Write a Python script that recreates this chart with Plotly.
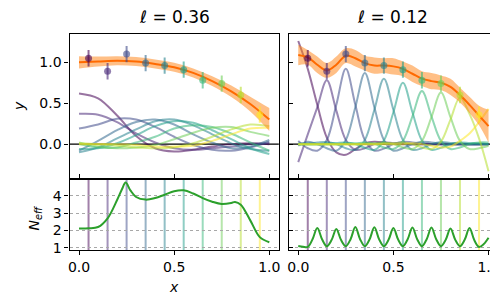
import plotly.graph_objects as go

# ---------------- data ----------------
x_data = [0.05, 0.15, 0.25, 0.35, 0.45, 0.55, 0.65, 0.75, 0.85, 0.95]
y_data = [1.05, 0.89, 1.10, 0.99, 0.96, 0.91, 0.78, 0.74, 0.60, 0.36]
y_err = [0.1, 0.1, 0.1, 0.1, 0.1, 0.1, 0.1, 0.1, 0.1, 0.1]
point_colors = ['#440154', '#482878', '#3e4989', '#31688e', '#26828e',
                '#1f9e89', '#35b779', '#6ece58', '#b5de2b', '#fde725']
titles = ['ℓ = 0.36', 'ℓ = 0.12']
x_ticks = [0.0, 0.5, 1.0]
x_tick_text = ['0.0', '0.5', '1.0']
y_ticks = [0.0, 0.5, 1.0]
y_tick_text = ['0.0', '0.5', '1.0']
neff_ticks = [1, 2, 3, 4]

# left panel (l = 0.36)
grid_left = [0.0, 0.1, 0.2, 0.3, 0.4, 0.5, 0.6, 0.7, 0.8, 0.9, 1.0]
mean_left = [1.00, 1.01, 1.02, 1.01, 0.98, 0.94, 0.87, 0.77, 0.645, 0.49, 0.30]
upper_left = [1.075, 1.07, 1.075, 1.065, 1.035, 0.995, 0.925, 0.83, 0.715, 0.58, 0.44]
lower_left = [0.925, 0.95, 0.965, 0.955, 0.925, 0.885, 0.815, 0.71, 0.575, 0.40, 0.16]
basis_left_0 = [0.62, 0.56, 0.35, 0.10, -0.05, -0.09, -0.07, -0.03, 0.00, 0.01, 0.00]
basis_left_1 = [0.37, 0.36, 0.27, 0.13, 0.02, -0.05, -0.07, -0.05, -0.03, 0.00, 0.01]
basis_left_2 = [0.19, 0.24, 0.31, 0.30, 0.21, 0.09, -0.01, -0.07, -0.08, -0.04, 0.03]
basis_left_3 = [-0.08, 0.04, 0.17, 0.27, 0.30, 0.24, 0.12, 0.02, -0.05, -0.03, 0.05]
basis_left_4 = [-0.10, -0.04, 0.07, 0.18, 0.28, 0.30, 0.23, 0.12, 0.01, -0.06, -0.08]
basis_left_5 = [-0.06, -0.05, 0.01, 0.11, 0.22, 0.28, 0.26, 0.17, 0.06, -0.05, -0.12]
basis_left_6 = [0.00, -0.04, -0.04, 0.02, 0.09, 0.19, 0.23, 0.21, 0.13, 0.02, -0.08]
basis_left_7 = [0.02, -0.03, -0.05, -0.04, -0.01, 0.06, 0.14, 0.20, 0.21, 0.15, 0.10]
basis_left_8 = [0.01, 0.00, -0.02, -0.04, -0.05, -0.04, 0.01, 0.09, 0.18, 0.24, 0.22]
basis_left_9 = [0.00, 0.00, 0.00, -0.01, -0.03, -0.03, -0.02, 0.04, 0.12, 0.19, 0.20]
basis_left = [basis_left_0, basis_left_1, basis_left_2, basis_left_3, basis_left_4,
              basis_left_5, basis_left_6, basis_left_7, basis_left_8, basis_left_9]

# right panel (l = 0.12)
grid_right = [0.0, 0.05, 0.1, 0.15, 0.2, 0.25, 0.3, 0.35, 0.4, 0.45, 0.5,
              0.55, 0.6, 0.65, 0.7, 0.75, 0.8, 0.85, 0.9, 0.95, 1.0]
mean_right = [1.09, 1.06, 0.97, 0.90, 0.97, 1.08, 1.05, 0.99, 0.96, 0.96, 0.95,
              0.92, 0.86, 0.80, 0.77, 0.75, 0.70, 0.60, 0.48, 0.35, 0.22]
upper_right = [1.215, 1.15, 1.07, 0.99, 1.07, 1.17, 1.15, 1.08, 1.06, 1.05, 1.05,
               1.01, 0.96, 0.89, 0.87, 0.84, 0.80, 0.69, 0.58, 0.47, 0.42]
lower_right = [0.965, 0.97, 0.87, 0.81, 0.87, 0.99, 0.95, 0.90, 0.86, 0.87, 0.85,
               0.83, 0.76, 0.71, 0.67, 0.66, 0.60, 0.51, 0.38, 0.23, 0.02]
basis_right_0 = [1.26, 0.92, 0.48, 0.08, -0.10, -0.13, -0.06, 0.01, 0.03, 0.02, 0.00,
                 0, 0, 0, 0, 0, 0, 0, 0, 0, 0]
basis_right_1 = [-0.22, 0.12, 0.45, 0.78, 0.41, 0.05, -0.07, -0.05, 0.00, 0.02, 0.015,
                 0.01, 0, 0, 0, 0, 0, 0, 0, 0, 0]
basis_right_2 = [0.04, -0.05, -0.08, 0.05, 0.48, 0.92, 0.48, 0.05, -0.08, -0.055, 0.00,
                 0.03, 0.02, 0.01, 0, 0, 0, 0, 0, 0, 0]
basis_right_3 = [-0.02, 0.03, 0.00, -0.05, -0.08, 0.05, 0.45, 0.87, 0.45, 0.05, -0.08,
                 -0.05, 0.00, 0.03, 0.02, 0.01, 0, 0, 0, 0, 0]
basis_right_4 = [0.01, 0.01, 0.02, 0.025, 0.00, -0.05, -0.07, 0.05, 0.42, 0.80, 0.42,
                 0.05, -0.07, -0.05, 0.00, 0.025, 0.015, 0.01, 0, 0, 0]
basis_right_5 = [0, 0, 0, 0.01, 0.015, 0.02, 0.00, -0.045, -0.07, 0.045, 0.39,
                 0.75, 0.39, 0.045, -0.07, -0.045, 0.00, 0.02, 0.015, 0.01, 0.00]
basis_right_6 = [0, 0, 0, 0, 0, 0.01, 0.01, 0.02, 0.00, -0.04, -0.06,
                 0.04, 0.34, 0.65, 0.34, 0.04, -0.06, -0.04, 0.00, 0.02, 0.02]
basis_right_7 = [0, 0, 0, 0, 0, 0, 0, 0.01, 0.01, 0.02, 0.00,
                 -0.04, -0.06, 0.04, 0.33, 0.63, 0.33, 0.04, -0.06, -0.05, -0.02]
basis_right_8 = [0, 0, 0, 0, 0, 0, 0, 0, 0, 0.01, 0.01,
                 0.02, 0.00, -0.04, -0.06, 0.03, 0.30, 0.57, 0.37, 0.07, -0.33]
basis_right_9 = [0, 0, 0, 0, 0, 0, 0, 0, 0, 0, 0,
                 0.00, 0.01, 0.00, -0.02, -0.04, -0.03, 0.04, 0.13, 0.27, 0.43]
basis_right = [basis_right_0, basis_right_1, basis_right_2, basis_right_3, basis_right_4,
               basis_right_5, basis_right_6, basis_right_7, basis_right_8, basis_right_9]

# effective number of points
neff_left_x = [0.0, 0.05, 0.1, 0.15, 0.2, 0.225, 0.245, 0.27, 0.3, 0.35, 0.4, 0.45,
               0.5, 0.55, 0.6, 0.65, 0.7, 0.75, 0.8, 0.82, 0.85, 0.9, 0.95, 1.0]
neff_left = [2.12, 2.13, 2.2, 2.7, 3.75, 4.35, 4.75, 4.3, 3.92, 3.77, 3.86, 4.05,
             4.25, 4.3, 4.12, 3.86, 3.65, 3.52, 3.58, 3.64, 3.48, 2.58, 1.62, 1.33]
neff_right_x = [0.0, 0.025, 0.05, 0.075, 0.1, 0.125, 0.15, 0.175, 0.2, 0.225, 0.25,
                0.275, 0.3, 0.325, 0.35, 0.375, 0.4, 0.425, 0.45, 0.475, 0.5,
                0.525, 0.55, 0.575, 0.6, 0.625, 0.65, 0.675, 0.7, 0.725, 0.75,
                0.775, 0.8, 0.825, 0.85, 0.875, 0.9, 0.925, 0.95, 0.975, 1.0]
neff_right = [1.11, 1.07, 1.06, 1.5, 2.14, 1.5, 1.1, 1.45, 2.09, 1.45, 1.1,
              1.5, 2.2, 1.5, 1.1, 1.5, 2.18, 1.5, 1.1, 1.48, 2.14,
              1.48, 1.1, 1.5, 2.17, 1.5, 1.1, 1.5, 2.17, 1.5, 1.1,
              1.47, 2.12, 1.47, 1.1, 1.48, 2.14, 1.45, 1.06, 1.22, 1.58]

# ---------------- figure ----------------
W, H = 498, 299
FONT = 'DejaVu Sans'


def hexa(h, a):
    h = h.lstrip('#')
    return 'rgba(%d,%d,%d,%.2f)' % (int(h[0:2], 16), int(h[2:4], 16), int(h[4:6], 16), a)


def px(xp):
    return xp / W


def py(yp):
    return 1 - yp / H


fig = go.Figure()

panels = [
    dict(xa='x', ya='y', grid=grid_left, mean=mean_left, up=upper_left, lo=lower_left,
         basis=basis_left),
    dict(xa='x2', ya='y2', grid=grid_right, mean=mean_right, up=upper_right, lo=lower_right,
         basis=basis_right),
]

for p in panels:
    for i, b in enumerate(p['basis']):
        fig.add_trace(go.Scatter(x=p['grid'], y=b, mode='lines',
                                 line=dict(color=hexa(point_colors[i], 0.55), width=2,
                                           shape='spline', smoothing=1.0),
                                 xaxis=p['xa'], yaxis=p['ya'], showlegend=False,
                                 hoverinfo='skip'))
    fig.add_trace(go.Scatter(x=p['grid'], y=p['lo'], mode='lines',
                             line=dict(width=0, shape='spline'),
                             xaxis=p['xa'], yaxis=p['ya'], showlegend=False,
                             hoverinfo='skip'))
    fig.add_trace(go.Scatter(x=p['grid'], y=p['up'], mode='lines',
                             line=dict(width=0, shape='spline'), fill='tonexty',
                             fillcolor='rgba(255,127,14,0.5)',
                             xaxis=p['xa'], yaxis=p['ya'], showlegend=False,
                             hoverinfo='skip'))
    fig.add_trace(go.Scatter(x=p['grid'], y=p['mean'], mode='lines',
                             line=dict(color='#ff6a00', width=2, shape='spline'),
                             xaxis=p['xa'], yaxis=p['ya'], showlegend=False))
    for i in range(len(x_data)):
        fig.add_trace(go.Scatter(x=[x_data[i]], y=[y_data[i]], mode='markers',
                                 marker=dict(color=hexa(point_colors[i], 0.6), size=7,
                                             line=dict(width=0)),
                                 error_y=dict(type='data', array=[y_err[i]], visible=True,
                                              color=hexa(point_colors[i], 0.6),
                                              thickness=2, width=0),
                                 xaxis=p['xa'], yaxis=p['ya'], showlegend=False))

# N_eff panels
fig.add_trace(go.Scatter(x=neff_left_x, y=neff_left, mode='lines',
                         line=dict(color='#2ca02c', width=2, shape='spline'),
                         xaxis='x3', yaxis='y3', showlegend=False))
fig.add_trace(go.Scatter(x=neff_right_x, y=neff_right, mode='lines',
                         line=dict(color='#2ca02c', width=2, shape='spline'),
                         xaxis='x4', yaxis='y4', showlegend=False))

shapes = []
for xa in ['x', 'x2']:
    ya = 'y' if xa == 'x' else 'y2'
    shapes.append(dict(type='line', xref=xa + ' domain', yref=ya, x0=0, x1=1, y0=0, y1=0,
                       line=dict(color='black', width=1.3), layer='below'))
for xa, ya in [('x3', 'y3'), ('x4', 'y4')]:
    for i, xv in enumerate(x_data):
        shapes.append(dict(type='line', xref=xa, yref=ya + ' domain', x0=xv, x1=xv,
                           y0=0, y1=1, line=dict(color=hexa(point_colors[i], 0.5), width=2),
                           layer='below'))

xl = [px(60), px(271)]
xr = [px(281), px(492)]
yt = [py(174), py(27)]
yb = [py(247), py(174)]

axis_common = dict(showline=True, mirror=True, linecolor='black', linewidth=1.3,
                   tickcolor='black', ticklen=4, tickwidth=1.1, zeroline=False,
                   tickfont=dict(family=FONT, size=14, color='black'))

grid_style = dict(showgrid=True, gridcolor='#a8a8a8', gridwidth=1.2, griddash='dot')

fig.update_layout(
    width=W, height=H, margin=dict(l=0, r=0, t=0, b=0),
    paper_bgcolor='white', plot_bgcolor='white',
    font=dict(family=FONT, size=14, color='black'),
    shapes=shapes,
    xaxis=dict(domain=xl, anchor='y', range=[-0.05, 1.05], tickvals=x_ticks,
               showticklabels=False, ticks='inside', showgrid=False, **axis_common),
    yaxis=dict(domain=yt, anchor='x', range=[-0.42, 1.34], tickvals=y_ticks,
               ticktext=y_tick_text, ticks='outside', showgrid=False, **axis_common),
    xaxis2=dict(domain=xr, anchor='y2', range=[-0.05, 1.05], tickvals=x_ticks,
                showticklabels=False, ticks='inside', showgrid=False, **axis_common),
    yaxis2=dict(domain=yt, anchor='x2', range=[-0.42, 1.34], tickvals=y_ticks,
                showticklabels=False, ticks='inside', showgrid=False, **axis_common),
    xaxis3=dict(domain=xl, anchor='y3', range=[-0.05, 1.05], tickvals=x_ticks,
                ticktext=x_tick_text, ticks='outside', showgrid=False, **axis_common),
    yaxis3=dict(domain=yb, anchor='x3', range=[0.88, 4.98], tickvals=neff_ticks,
                ticks='outside', **grid_style, **axis_common),
    xaxis4=dict(domain=xr, anchor='y4', range=[-0.05, 1.05], tickvals=x_ticks,
                ticktext=x_tick_text, ticks='outside', showgrid=False, **axis_common),
    yaxis4=dict(domain=yb, anchor='x4', range=[0.88, 4.98], tickvals=neff_ticks,
                showticklabels=False, ticks='inside', **grid_style, **axis_common),
)

annotations = [
    dict(text='<i>ℓ</i> = 0.36', x=px(166), y=py(9), xref='paper', yref='paper',
         showarrow=False, font=dict(family=FONT, size=17), xanchor='center', yanchor='middle'),
    dict(text='<i>ℓ</i> = 0.12', x=px(386), y=py(9), xref='paper', yref='paper',
         showarrow=False, font=dict(family=FONT, size=17), xanchor='center', yanchor='middle'),
    dict(text='<i>y</i>', x=px(9), y=py(100), xref='paper', yref='paper', textangle=-90,
         showarrow=False, font=dict(family=FONT, size=14), xanchor='center', yanchor='middle'),
    dict(text='<i>N</i><sub><i>eff</i></sub>', x=px(25), y=py(214), xref='paper',
         yref='paper', textangle=-90, showarrow=False, font=dict(family=FONT, size=14),
         xanchor='center', yanchor='middle'),
    dict(text='<i>x</i>', x=px(165), y=py(285), xref='paper', yref='paper',
         showarrow=False, font=dict(family=FONT, size=14), xanchor='center', yanchor='middle'),
]
fig.update_layout(annotations=annotations)

fig.write_html('out.html')
